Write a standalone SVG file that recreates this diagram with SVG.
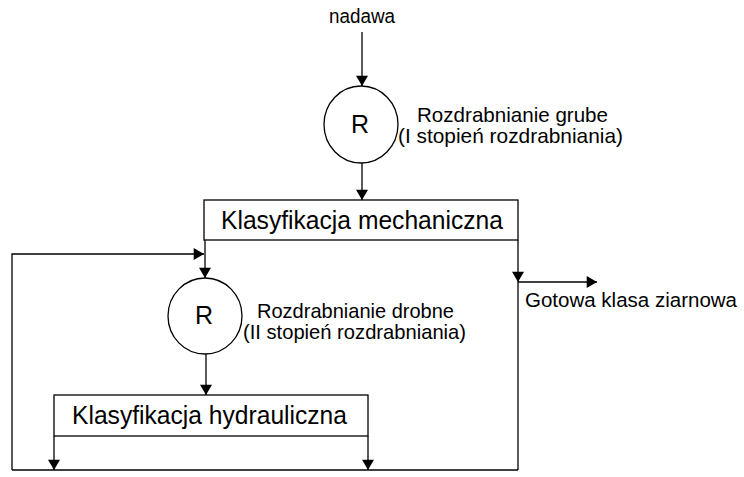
<svg xmlns="http://www.w3.org/2000/svg" width="744" height="477" viewBox="0 0 744 477">
<defs>
<marker id="ah" viewBox="0 0 12 14" refX="12" refY="7" markerWidth="14" markerHeight="12" markerUnits="userSpaceOnUse" orient="auto">
<path d="M0,0 L12,7 L0,14 Z" fill="#000"/>
</marker>
</defs>
<style>
.t{font-family:"Liberation Sans",Arial,sans-serif;fill:#000}
.s{font-size:21px}
.b{font-size:25px}
.n{fill:#fff;stroke:#000;stroke-width:1.3}
.c{fill:none;stroke:#000;stroke-width:1.3}
</style>
<rect width="744" height="477" fill="#fff"/>
<g id="connectors">
<line class="c" x1="362" y1="32" x2="362" y2="86" marker-end="url(#ah)"/>
<line class="c" x1="362" y1="163" x2="362" y2="200" marker-end="url(#ah)"/>
<line class="c" x1="205" y1="240" x2="205" y2="278" marker-end="url(#ah)"/>
<polyline class="c" points="12,470 12,254 204,254" marker-end="url(#ah)"/>
<line class="c" x1="518" y1="240" x2="518" y2="282" marker-end="url(#ah)"/>
<line class="c" x1="518" y1="282" x2="518" y2="470"/>
<line class="c" x1="518" y1="282" x2="597" y2="282" marker-end="url(#ah)"/>
<line class="c" x1="206" y1="354" x2="206" y2="395" marker-end="url(#ah)"/>
<line class="c" x1="54" y1="436" x2="54" y2="470" marker-end="url(#ah)"/>
<line class="c" x1="368" y1="436" x2="368" y2="470" marker-end="url(#ah)"/>
<line class="c" x1="12" y1="470" x2="518" y2="470"/>
</g>
<g id="nadawa"><text class="t" font-size="20" x="362" y="23" text-anchor="middle" textLength="66" lengthAdjust="spacingAndGlyphs">nadawa</text></g>
<g id="r1">
<ellipse class="n" cx="361" cy="124.5" rx="37" ry="38.5"/>
<text class="t b" x="360" y="133" text-anchor="middle">R</text>
</g>
<g id="r1-label">
<text class="t s" x="417" y="122" textLength="191" lengthAdjust="spacingAndGlyphs">Rozdrabnianie grube</text>
<text class="t s" x="398" y="143" textLength="225" lengthAdjust="spacingAndGlyphs">(I stopień rozdrabniania)</text>
</g>
<g id="mech">
<rect class="n" x="204" y="200" width="314" height="40"/>
<text class="t" font-size="26" x="221" y="229" textLength="282" lengthAdjust="spacingAndGlyphs">Klasyfikacja mechaniczna</text>
</g>
<g id="r2">
<ellipse class="n" cx="205" cy="316" rx="37" ry="38"/>
<text class="t b" x="204" y="324" text-anchor="middle">R</text>
</g>
<g id="r2-label">
<text class="t s" x="257" y="318" textLength="197" lengthAdjust="spacingAndGlyphs">Rozdrabnianie drobne</text>
<text class="t s" x="243" y="339" textLength="223" lengthAdjust="spacingAndGlyphs">(II stopień rozdrabniania)</text>
</g>
<g id="gotowa"><text class="t" font-size="20.5" x="525" y="307" textLength="212" lengthAdjust="spacingAndGlyphs">Gotowa klasa ziarnowa</text></g>
<g id="hydr">
<rect class="n" x="54" y="395" width="314" height="41"/>
<text class="t" font-size="26" x="72" y="424" textLength="275" lengthAdjust="spacingAndGlyphs">Klasyfikacja hydrauliczna</text>
</g>
</svg>
